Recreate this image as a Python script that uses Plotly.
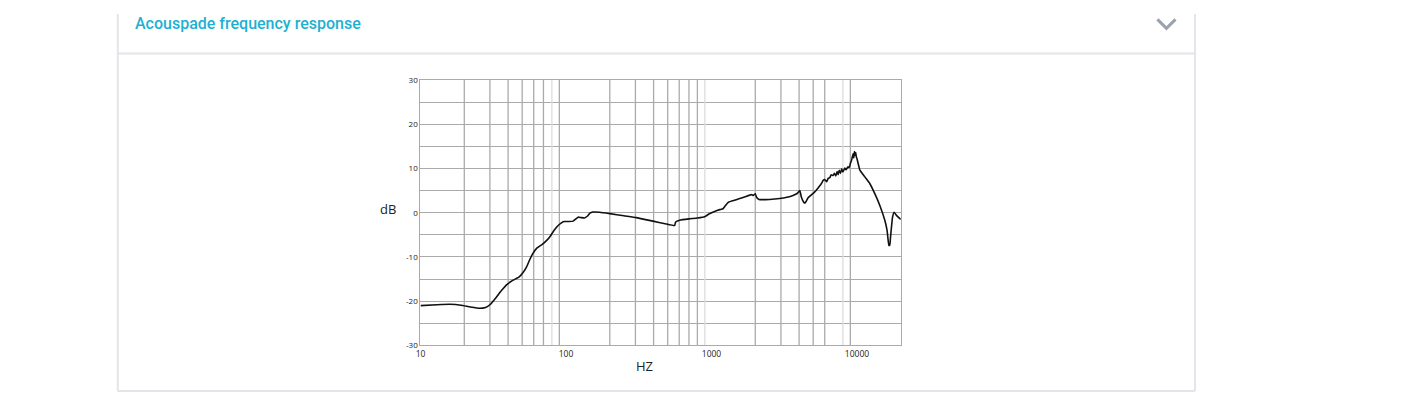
import math
import plotly.graph_objects as go

# ---- data ----
freq_hz = [10, 13, 16, 19, 22, 25.5, 28, 30, 33, 36, 39, 43, 47.7, 51, 53.5, 56, 59, 63, 69, 74,
           78, 82, 87, 92, 97, 105, 112, 117, 121, 127, 134, 140, 146, 153, 170, 200, 250, 304,
           396, 480, 558, 567, 604, 700, 800, 898, 960, 1050, 1138, 1200, 1240, 1298, 1400, 1563,
           1700, 1880, 1940, 2000, 2040, 2123, 2500, 2944, 3300, 3633, 3900, 4044, 4150, 4300,
           4400, 4612, 5126, 5400, 5700, 5850, 6008, 6200, 6350, 6501, 6650, 6850, 7000, 7150,
           7300, 7413, 7550, 7700, 7850, 8000, 8240, 8400, 8680, 8850, 9000, 9200, 9400, 9500,
           9600, 9690, 9800, 9900, 10000, 10450, 11320, 12240, 13250, 14350, 15530, 16100, 16550,
           16800, 17000, 17550, 18000, 18700, 19200, 20000]
level_db = [-21.0, -20.8, -20.7, -20.9, -21.3, -21.6, -21.4, -20.8, -19.2, -17.6, -16.3, -15.3,
            -14.5, -13.4, -12.3, -10.8, -9.3, -8.0, -7.1, -6.2, -5.3, -4.2, -3.1, -2.4, -2.0,
            -2.0, -1.9, -1.4, -1.0, -1.1, -1.2, -0.8, -0.1, 0.15, 0.1, -0.2, -0.7, -1.1, -1.9,
            -2.5, -2.9, -2.1, -1.7, -1.4, -1.2, -0.9, -0.3, 0.3, 0.7, 0.9, 1.5, 2.3, 2.7, 3.2,
            3.6, 4.1, 3.9, 4.3, 3.5, 3.0, 3.0, 3.2, 3.5, 3.9, 4.4, 5.0, 3.5, 2.4, 2.2, 3.4, 4.7,
            5.6, 6.6, 7.3, 7.5, 7.0, 7.8, 7.9, 8.6, 8.4, 8.9, 8.3, 9.3, 8.6, 9.6, 8.9, 9.9, 9.2,
            10.1, 9.7, 10.4, 10.2, 11.1, 12.0, 13.3, 12.4, 13.8, 13.0, 13.6, 12.6, 12.2, 9.7,
            8.1, 6.6, 4.3, 1.65, -1.7, -4.0, -7.4, -7.3, -5.5, -1.0, 0.1, -0.6, -1.0, -1.5]

x_tick_vals = [10, 100, 1000, 10000]
x_tick_text = ["10", "100", "1000", "10000"]
y_tick_vals = [-30, -20, -10, 0, 10, 20, 30]
y_tick_text = ["-30", "-20", "-10", "0", "10", "20", "30"]
grid_freqs_dark = [20, 30, 40, 50, 60, 70, 90, 200, 300, 400, 500, 600, 700, 800,
                   2000, 3000, 4000, 5000, 6000, 9000]
grid_freqs_light = [80, 900, 8000]

# page offset (browser body margin) compensation
OFF = 8
W, H = 1418 - 2 * OFF, 404 - 2 * OFF
SX_A, SX_B = 5.8, 0.9958   # observed screen mapping (x)
SY_A, SY_B = 6.4, 0.9698   # observed screen mapping (y)


def px(x):
    p = (x - SX_A) / SX_B
    return (p - OFF) / W


def py(y):
    p = (y - SY_A) / SY_B
    return 1 - (p - OFF) / H


def vlines(freqs):
    xs, ys = [], []
    for f in freqs:
        xs += [f, f, None]
        ys += [-30, 30, None]
    return xs, ys


grid_color = "#aaaaaa"
fig = go.Figure()
gx, gy = vlines(grid_freqs_light)
fig.add_trace(go.Scatter(x=gx, y=gy, mode="lines", line=dict(color="#dcdcdc", width=1.3),
                         hoverinfo="skip", showlegend=False))
gx, gy = vlines(grid_freqs_dark)
fig.add_trace(go.Scatter(x=gx, y=gy, mode="lines", line=dict(color=grid_color, width=1.3),
                         hoverinfo="skip", showlegend=False))
fig.add_trace(go.Scatter(x=freq_hz, y=level_db, mode="lines",
                         line=dict(color="#111111", width=1.6, shape="spline", smoothing=0.3),
                         hoverinfo="skip", showlegend=False))

border = "#e4e4ea"
shapes = [
    dict(type="line", xref="paper", yref="paper", x0=px(118.5), x1=px(118.5), y0=0, y1=1,
         line=dict(color=border, width=2)),
    dict(type="line", xref="paper", yref="paper", x0=px(1195), x1=px(1195), y0=0, y1=1,
         line=dict(color=border, width=2)),
    dict(type="line", xref="paper", yref="paper", x0=px(118), x1=px(1195), y0=py(53.5), y1=py(53.5),
         line=dict(color=border, width=2)),
    dict(type="line", xref="paper", yref="paper", x0=px(118), x1=px(1195), y0=py(390.5), y1=py(390.5),
         line=dict(color=border, width=2)),
    dict(type="path", xref="paper", yref="paper",
         path=f"M {px(1157.5)},{py(19.5)} L {px(1166.5)},{py(28.5)} L {px(1175.5)},{py(19.5)}",
         line=dict(color="#9aa2ad", width=3)),
]

annotations = [
    dict(text="Acouspade frequency response", xref="paper", yref="paper", x=px(134), y=py(24),
         xanchor="left", yanchor="middle", showarrow=False,
         font=dict(family="Roboto", size=16, color="#1bb1d2", weight=500)),
    dict(text="dB", xref="paper", yref="paper", x=px(389), y=py(209), xanchor="center",
         yanchor="middle", showarrow=False,
         font=dict(family="Open Sans", size=13, color="#222222")),
    dict(text="HZ", xref="paper", yref="paper", x=px(645), y=py(365), xanchor="center",
         yanchor="middle", showarrow=False,
         font=dict(family="Open Sans", size=13, color="#222222")),
]

fig.update_layout(
    width=W, height=H,
    margin=dict(l=0, r=0, t=0, b=0),
    paper_bgcolor="white", plot_bgcolor="white",
    shapes=shapes, annotations=annotations,
    xaxis=dict(type="log", range=[1, math.log10(20000)], domain=[px(421), px(901)],
               tickvals=x_tick_vals, ticktext=x_tick_text, showgrid=False, zeroline=False,
               ticks="", tickfont=dict(family="Open Sans", size=8.5, color="#222222"),
               showline=True, mirror=True, linecolor=grid_color, linewidth=1.3,
               fixedrange=True),
    yaxis=dict(range=[-30, 30], domain=[py(345), py(80)], tickvals=y_tick_vals,
               ticktext=y_tick_text, showgrid=True, gridcolor=grid_color, gridwidth=1.3,
               zeroline=False, ticks="", tickfont=dict(family="Open Sans", size=8, color="#222222"),
               minor=dict(dtick=5, showgrid=True, gridcolor=grid_color, gridwidth=1.3),
               showline=True, mirror=True, linecolor=grid_color, linewidth=1.3,
               fixedrange=True),
)

fig.write_html("out.html")
